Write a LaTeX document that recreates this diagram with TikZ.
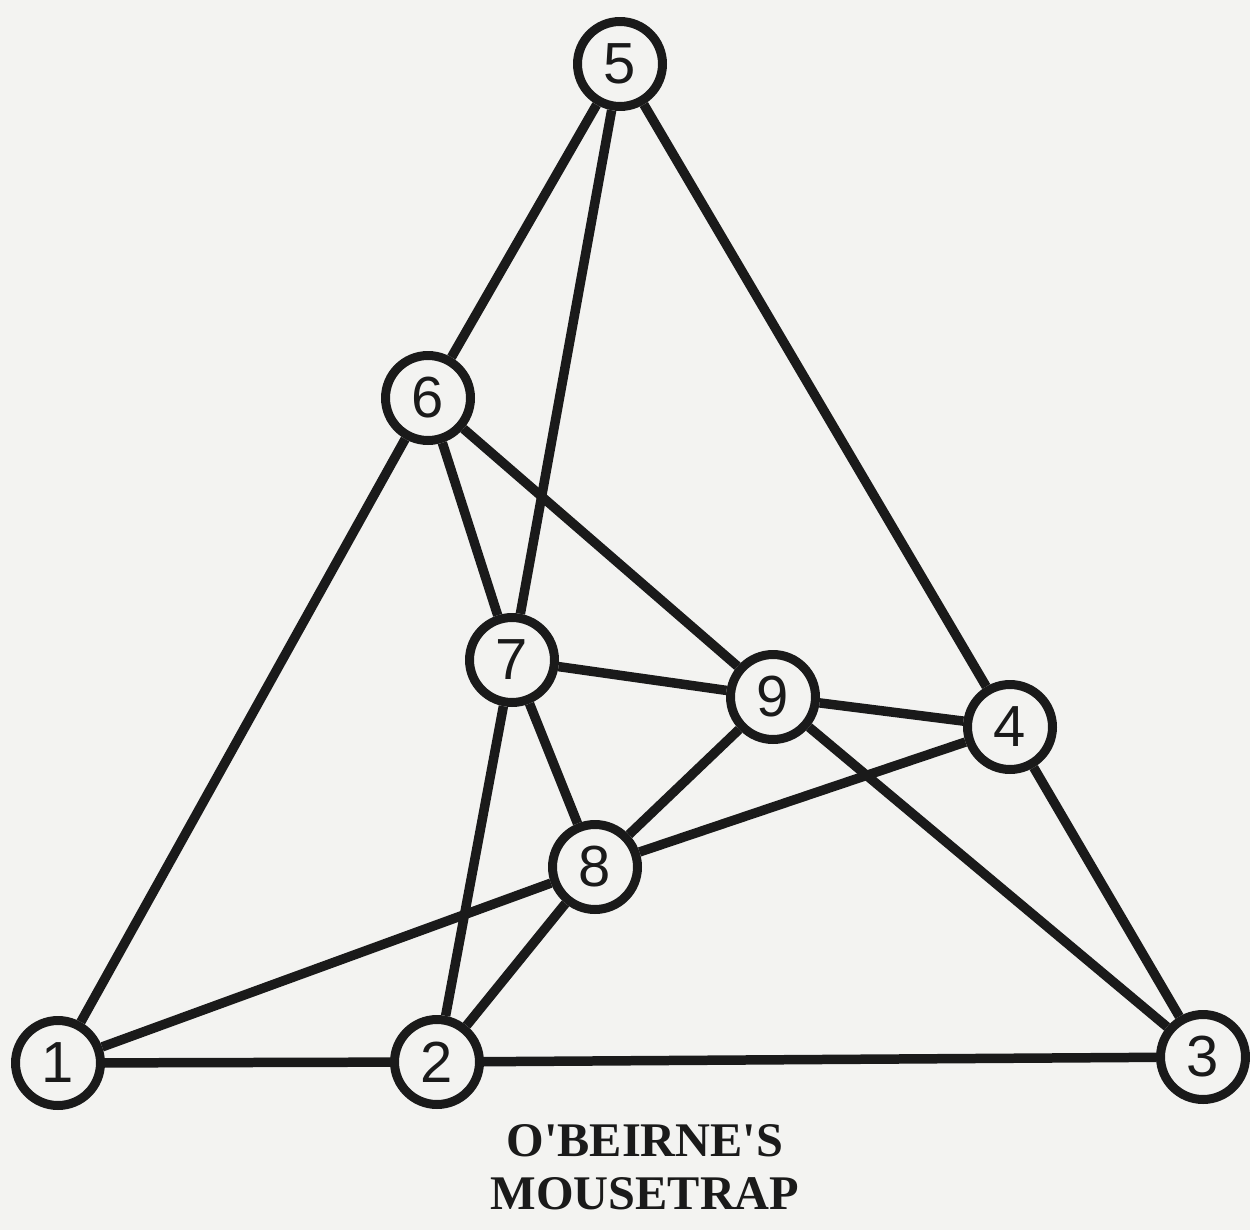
\documentclass[tikz,border=0pt]{standalone}
\usepackage{fontspec}
\setmainfont{Liberation Serif}
\newfontfamily\digitfont{Liberation Sans}
\definecolor{paper}{RGB}{243,243,241}
\definecolor{ink}{RGB}{26,26,26}
\begin{document}
\begin{tikzpicture}[x=0.02cm,y=-0.02cm,
  vertex/.style={circle,draw=ink,fill=paper,line width=0.18cm,minimum size=1.7cm,inner sep=0pt,
    font=\digitfont\fontsize{33}{33}\selectfont,text=ink},
  edge/.style={draw=ink,line width=0.19cm},
  caption/.style={font=\bfseries\fontsize{27.5}{30}\selectfont,text=ink,align=center}]
  % paper
  \fill[paper] (0,0) rectangle (1250,1230);
  \useasboundingbox (0,0) rectangle (1250,1230);

  % vertices
  \node[vertex] (n1) at (58,1063) {1};
  \node[vertex] (n2) at (437,1062) {2};
  \node[vertex] (n3) at (1203,1057) {3};
  \node[vertex] (n4) at (1010,727) {4};
  \node[vertex] (n5) at (620,64) {5};
  \node[vertex] (n6) at (428,398) {6};
  \node[vertex] (n7) at (512,660) {7};
  \node[vertex] (n8) at (595,867) {8};
  \node[vertex] (n9) at (773,697) {9};

  % edges
  \foreach \a/\b in {n1/n2,n2/n3,n1/n6,n1/n8,n6/n5,n5/n7,n5/n4,n6/n7,n6/n9,
                     n7/n9,n7/n8,n7/n2,n9/n4,n9/n8,n9/n3,n8/n4,n8/n2,n4/n3}
    \draw[edge] (\a) -- (\b);

  % caption
  \node[caption] (title) at (645,1167) {O\textquotesingle BEIRNE\textquotesingle S\\MOUSETRAP};
\end{tikzpicture}
\end{document}
